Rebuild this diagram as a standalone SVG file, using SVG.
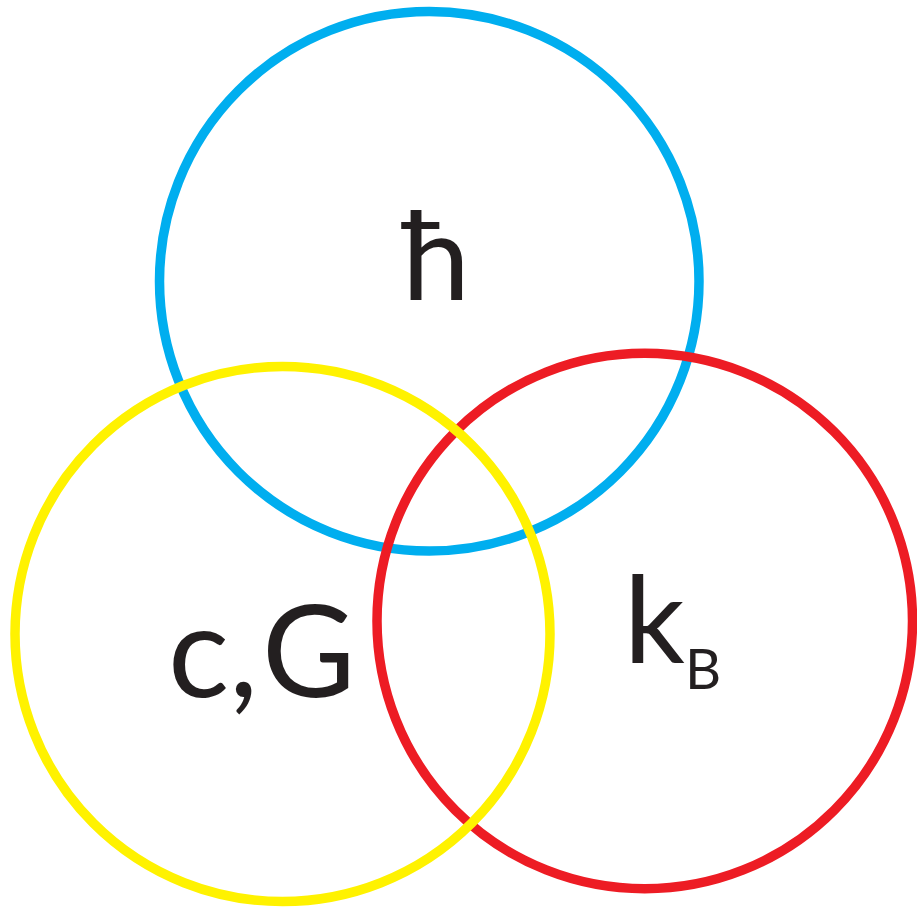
<svg xmlns="http://www.w3.org/2000/svg" width="917" height="912" viewBox="0 0 917 912">
<style>
.c{fill:none;stroke-width:9.5}
.t{font-family:Lato,"Open Sans","Liberation Sans",sans-serif;fill:#231F20}
</style>
<rect width="917" height="912" fill="#fff"/>
<g id="blue">
<circle class="c" cx="429.25" cy="281.25" r="269.75" stroke="#00AEEF"/>
<text class="t" x="402" y="300" font-size="122">ħ</text>
</g>
<g id="red">
<circle class="c" cx="644.75" cy="621" r="267.75" stroke="#ED1C24"/>
<text class="t" x="624" y="662" font-size="120">k<tspan font-size="56" dy="27">B</tspan></text>
</g>
<g id="yellow">
<circle class="c" cx="282.5" cy="634" r="267.5" stroke="#FFF200"/>
<text class="t" x="168" y="697" font-size="128"><tspan>c,</tspan><tspan x="262">G</tspan></text>
</g>
</svg>
